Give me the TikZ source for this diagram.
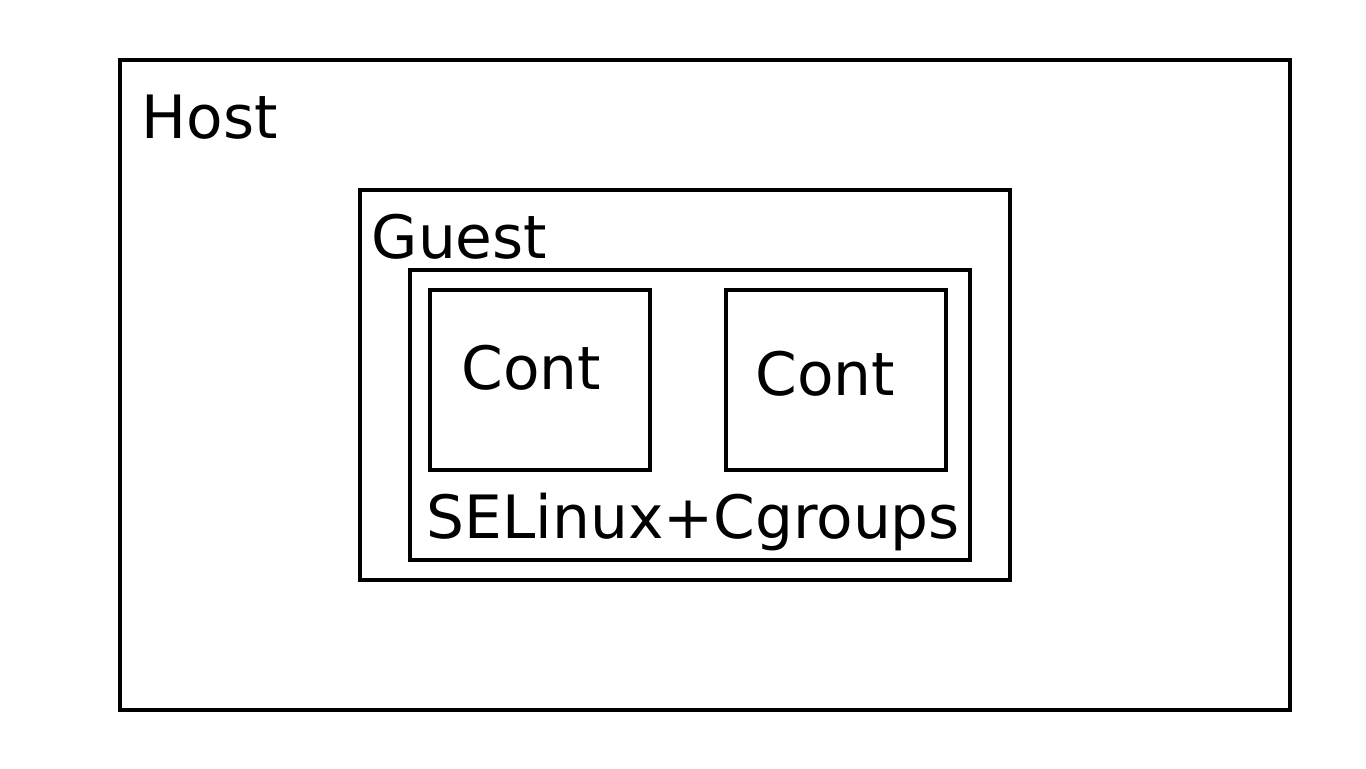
\documentclass[tikz,border=0pt]{standalone}
\usepackage{fontspec}
\setmainfont{DejaVu Sans}
\usetikzlibrary{positioning}
\tikzset{
  box/.style={draw,rectangle,line width=0.04cm,inner sep=0pt,outer sep=0pt,anchor=north west},
  lbl/.style={inner sep=0pt,anchor=base west,font=\fontsize{17}{20}\selectfont},
}
\begin{document}
\begin{tikzpicture}
        \useasboundingbox (0,0) rectangle (13.66,-7.68);

        \node[box,minimum width=11.7cm,minimum height=6.5cm]    (host)    at (1.2,-0.6)    {};
        \node[box,minimum width=6.5cm,minimum height=3.9cm]     (guest)   at (3.6,-1.9)    {};
        \node[box,minimum width=5.6cm,minimum height=2.9cm]     (sel)     at (4.1,-2.7)    {};
        \node[box,minimum width=2.2cm,minimum height=1.8cm]     (cont1)   at (4.3,-2.9)    {};
        \node[box,minimum width=2.2cm,minimum height=1.8cm]     (cont2)   at (7.26,-2.9)   {};

        \node[lbl]    (hostlbl)    at (1.41,-1.38)    {Host};
        \node[lbl]    (guestlbl)   at (3.71,-2.58)    {Guest};
        \node[lbl]    (cont1lbl)   at (4.61,-3.89)    {Cont};
        \node[lbl]    (cont2lbl)   at (7.55,-3.95)    {Cont};
        \node[lbl]    (sellbl)     at (4.26,-5.38)    {SELinux+Cgroups};

\end{tikzpicture}
\end{document}
